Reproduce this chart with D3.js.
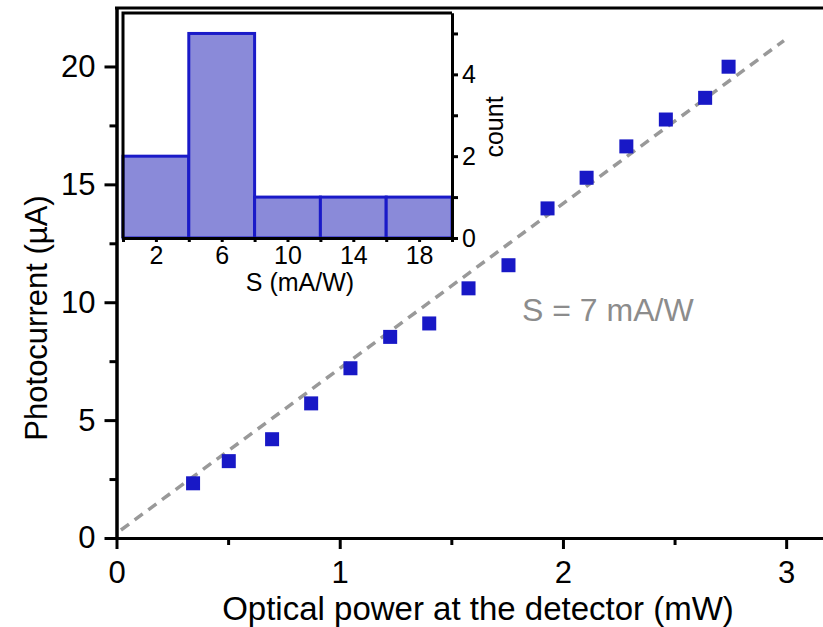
<!DOCTYPE html>
<html>
<head>
<meta charset="utf-8">
<script src="https://cdn.jsdelivr.net/npm/d3@7"></script>
<style>
  body { margin: 0; background: #fff; }
  svg { display: block; font-family: "Liberation Sans", Arial, sans-serif; }
</style>
</head>
<body>
<svg id="chart" width="823" height="627"></svg>
<script>
// measured points: optical power (mW) vs photocurrent (uA)
var power = [0.343, 0.503, 0.697, 0.872, 1.048, 1.226, 1.401, 1.577, 1.756, 1.931, 2.106, 2.284, 2.461, 2.637, 2.742];
var current = [2.32, 3.26, 4.19, 5.71, 7.20, 8.53, 9.10, 10.59, 11.57, 13.98, 15.28, 16.61, 17.75, 18.67, 19.99];

// fit line S = 7 mA/W, start and end points
var fitX = [0.02, 2.99];
var fitY = [0.34, 21.1];

// inset histogram of S
var binStart = [0, 4, 8, 12, 16];
var binEnd = [4, 8, 12, 16, 20];
var binCount = [2, 5, 1, 1, 1];

var xMajor = [0, 1, 2, 3], xMinor = [0.5, 1.5, 2.5];
var yMajor = [0, 5, 10, 15, 20], yMinor = [2.5, 7.5, 12.5, 17.5];
var insetXTicks = [0, 2, 4, 6, 8, 10, 12, 14, 16, 18, 20], insetXLabels = [2, 6, 10, 14, 18];
var countMajor = [0, 2, 4], countMinor = [1, 3, 5];

var svg = d3.select("#chart");

// main scales
var x = d3.scaleLinear().domain([0, 3.165]).range([116.5, 823]);
var y = d3.scaleLinear().domain([0, 22.48]).range([538, 8]);

// dashed fit line
svg.append("line")
    .attr("x1", x(fitX[0])).attr("y1", y(fitY[0]))
    .attr("x2", x(fitX[1])).attr("y2", y(fitY[1]))
    .style("stroke", "#999").style("stroke-width", 3.5)
    .style("stroke-dasharray", "10,7");

// data squares
var sq = 14;
svg.append("g").selectAll("rect").data(power).enter().append("rect")
    .attr("x", function(d){ return x(d) - sq/2; })
    .attr("y", function(d, i){ return y(current[i]) - sq/2; })
    .attr("width", sq).attr("height", sq)
    .style("fill", "#1818c6");

svg.append("text")
    .attr("x", 522).attr("y", 321)
    .style("font-size", "32px").style("fill", "#8c8c8c")
    .text("S = 7 mA/W");

// axes helper: thick black lines and ticks
function styleAxis(g, fontSize){
    g.selectAll("path.domain").style("stroke", "#000").style("stroke-width", 3);
    g.selectAll(".tick line").style("stroke", "#000").style("stroke-width", 3);
    g.selectAll(".tick text").style("font-size", fontSize).style("fill", "#000")
        .style("font-family", "'Liberation Sans', Arial, sans-serif");
}

var xAxisMinor = svg.append("g").attr("transform", "translate(0,538)")
    .call(d3.axisBottom(x).tickValues(xMinor).tickSize(7).tickSizeOuter(0).tickFormat(""));
styleAxis(xAxisMinor, "31px");
var xAxis = svg.append("g").attr("transform", "translate(0,538)")
    .call(d3.axisBottom(x).tickValues(xMajor).tickSize(11).tickSizeOuter(0).tickPadding(12).tickFormat(d3.format("d")));
styleAxis(xAxis, "31px");

var yAxisMinor = svg.append("g").attr("transform", "translate(116.5,0)")
    .call(d3.axisLeft(y).tickValues(yMinor).tickSize(7).tickSizeOuter(0).tickFormat(""));
styleAxis(yAxisMinor, "31px");
var yAxis = svg.append("g").attr("transform", "translate(116.5,0)")
    .call(d3.axisLeft(y).tickValues(yMajor).tickSize(12).tickSizeOuter(0).tickPadding(9).tickFormat(d3.format("d")));
styleAxis(yAxis, "31px");

// top frame line
svg.append("line").attr("x1", 115).attr("x2", 823).attr("y1", 8).attr("y2", 8)
    .style("stroke", "#000").style("stroke-width", 3);

svg.append("text")
    .attr("x", 478).attr("y", 620).attr("text-anchor", "middle")
    .style("font-size", "33px").text("Optical power at the detector (mW)");
svg.append("text")
    .attr("transform", "translate(47,318) rotate(-90)").attr("text-anchor", "middle")
    .style("font-size", "31px").text("Photocurrent (\u00b5A)");

// inset
var inset = svg.append("g").attr("class", "inset");
var xi = d3.scaleLinear().domain([0, 20]).range([123, 452]);
var yi = d3.scaleLinear().domain([0, 5.5]).range([238, 13]);

inset.append("rect").attr("x", 123).attr("y", 13).attr("width", 329).attr("height", 225)
    .style("fill", "#fff");

inset.append("g").selectAll("rect").data(binCount).enter().append("rect")
    .attr("x", function(d, i){ return xi(binStart[i]); })
    .attr("y", function(d){ return yi(d); })
    .attr("width", function(d, i){ return xi(binEnd[i]) - xi(binStart[i]); })
    .attr("height", function(d){ return yi(0) - yi(d); })
    .style("fill", "#8a8ad9").style("stroke", "#1a1ac8").style("stroke-width", 3);

var xiAxis = inset.append("g").attr("transform", "translate(0,238)")
    .call(d3.axisBottom(xi).tickValues(insetXTicks).tickSize(4).tickSizeOuter(0).tickPadding(4)
        .tickFormat(function(d){ return insetXLabels.indexOf(d) >= 0 ? d : ""; }));
styleAxis(xiAxis, "25px");

var yiMinor = inset.append("g").attr("transform", "translate(452,0)")
    .call(d3.axisRight(yi).tickValues(countMinor).tickSize(6).tickSizeOuter(0).tickFormat(""));
styleAxis(yiMinor, "25px");
var yiAxis = inset.append("g").attr("transform", "translate(452,0)")
    .call(d3.axisRight(yi).tickValues(countMajor).tickSize(6).tickSizeOuter(0).tickPadding(4).tickFormat(d3.format("d")));
styleAxis(yiAxis, "25px");

// inset frame: left and top
inset.append("path").attr("d", "M123,238V13H452")
    .style("fill", "none").style("stroke", "#000").style("stroke-width", 3);

inset.append("text")
    .attr("x", 300).attr("y", 291).attr("text-anchor", "middle")
    .style("font-size", "25px").text("S (mA/W)");
inset.append("text")
    .attr("transform", "translate(503,127) rotate(-90)").attr("text-anchor", "middle")
    .style("font-size", "25px").text("count");
</script>
</body>
</html>
